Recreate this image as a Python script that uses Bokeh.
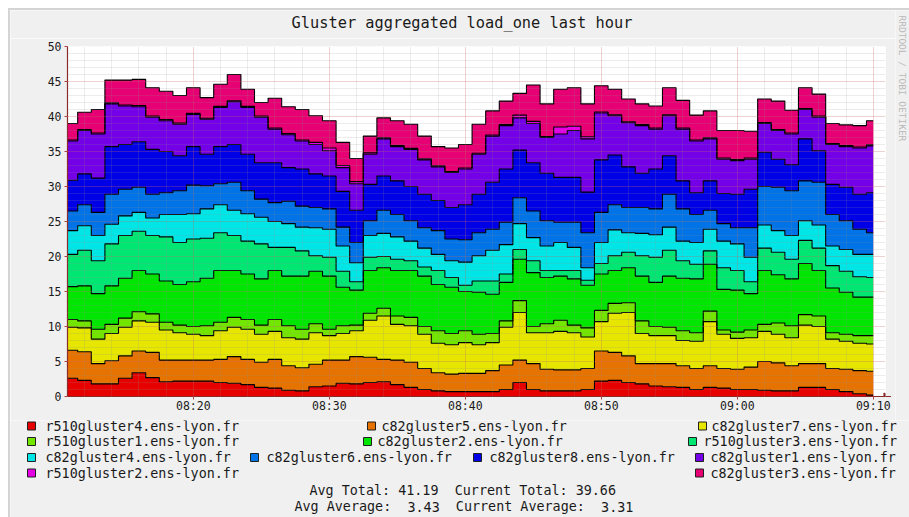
import math
import numpy as np
from bokeh.plotting import figure
from bokeh.layouts import column, row
from bokeh.models import Range1d, FixedTicker, Arrow, NormalHead, Spacer
from bokeh.core.properties import value
from bokeh.embed import file_html
from bokeh.resources import INLINE

# ---------------- data ----------------
# one sample per minute, minutes after 08:00 (08:11 ... 09:10)
minutes = list(range(11, 71))

hosts = ["r510gluster4.ens-lyon.fr", "c82gluster5.ens-lyon.fr", "c82gluster7.ens-lyon.fr",
         "r510gluster1.ens-lyon.fr", "c82gluster2.ens-lyon.fr", "r510gluster3.ens-lyon.fr",
         "c82gluster4.ens-lyon.fr", "c82gluster6.ens-lyon.fr", "c82gluster8.ens-lyon.fr",
         "c82gluster1.ens-lyon.fr", "r510gluster2.ens-lyon.fr", "c82gluster3.ens-lyon.fr"]

r510gluster4 = [2.6, 2.3, 1.8, 1.8, 2.6, 3.4, 2.7, 2.1, 2.2, 2.2,
                2.2, 2.0, 1.9, 1.7, 1.3, 1.2, 0.9, 0.8, 1.4, 1.5,
                1.9, 1.8, 2.0, 2.1, 1.7, 1.3, 1.0, 0.8, 0.7, 0.7,
                0.7, 0.7, 1.0, 2.0, 1.0, 0.8, 0.8, 0.8, 1.0, 2.2,
                2.3, 2.0, 1.8, 1.5, 1.4, 1.3, 1.0, 1.3, 1.2, 1.0,
                1.0, 0.9, 0.8, 0.8, 1.3, 1.3, 1.0, 0.7, 0.4, 0.2]
c82gluster5 = [4.0, 4.1, 2.9, 3.3, 3.2, 3.1, 3.6, 3.1, 3.0, 3.0,
               3.0, 3.3, 3.8, 3.6, 3.6, 4.1, 3.5, 3.3, 3.2, 3.7,
               3.3, 3.9, 3.6, 3.2, 3.5, 3.6, 3.0, 2.6, 2.5, 2.6,
               2.6, 3.0, 3.5, 3.2, 3.7, 3.1, 3.0, 3.0, 3.0, 4.3,
               4.0, 3.8, 2.9, 3.2, 3.3, 3.1, 3.0, 3.1, 2.8, 2.9,
               3.2, 4.1, 4.0, 3.6, 3.4, 3.4, 3.0, 3.2, 3.3, 3.4]
c82gluster7 = [3.3, 3.4, 3.5, 3.9, 4.1, 4.3, 4.3, 4.3, 3.9, 3.7,
               3.5, 4.1, 4.2, 4.3, 4.0, 4.0, 4.0, 4.1, 4.5, 3.5,
               3.8, 3.7, 5.3, 6.2, 5.1, 5.2, 4.9, 4.2, 4.2, 4.4,
               4.1, 4.0, 5.4, 6.8, 4.4, 5.2, 5.5, 5.3, 4.5, 4.2,
               5.6, 6.2, 4.3, 4.0, 4.0, 3.6, 3.9, 6.3, 4.9, 4.4,
               4.2, 4.3, 4.1, 4.0, 5.5, 5.3, 4.2, 4.0, 3.9, 3.9]
r510gluster1 = [1.1, 1.0, 1.4, 1.3, 1.3, 1.3, 1.2, 1.1, 1.1, 1.1,
                1.4, 1.2, 1.4, 1.4, 1.3, 1.7, 1.7, 1.4, 1.3, 0.9,
                1.1, 0.8, 1.0, 1.1, 1.2, 1.2, 1.1, 1.8, 1.6, 1.7,
                1.5, 1.3, 0.9, 1.7, 0.9, 1.3, 1.6, 1.1, 1.3, 1.6,
                1.4, 1.4, 1.8, 1.3, 1.2, 1.4, 1.2, 1.5, 0.6, 0.9,
                1.1, 1.0, 1.6, 1.7, 1.5, 1.5, 0.9, 1.0, 1.1, 1.2]
c82gluster2 = [4.7, 5.0, 5.1, 5.5, 5.7, 5.9, 5.7, 5.9, 5.8, 6.4,
               6.8, 7.4, 6.7, 6.5, 6.6, 7.0, 7.1, 7.6, 7.5, 7.6,
               5.5, 5.0, 6.1, 5.8, 6.5, 6.7, 7.2, 6.6, 6.6, 5.6,
               6.0, 5.6, 5.5, 5.9, 7.7, 6.6, 6.3, 6.6, 6.1, 5.2,
               4.7, 5.0, 6.4, 6.3, 7.3, 7.5, 7.7, 6.7, 5.8, 6.0,
               5.2, 7.7, 6.9, 6.7, 7.3, 6.5, 6.4, 6.0, 5.5, 5.5]
r510gluster3 = [4.6, 5.1, 4.7, 6.0, 6.1, 5.6, 5.5, 6.3, 6.0, 6.1,
                5.7, 5.4, 5.0, 4.7, 5.0, 3.3, 4.1, 3.6, 2.2, 2.7,
                2.3, 1.2, 1.9, 1.6, 1.6, 1.4, 1.3, 2.0, 1.4, 0.9,
                1.6, 1.9, 1.2, 1.4, 1.7, 1.0, 0.8, 1.2, 0.7, 1.5,
                2.1, 2.2, 2.9, 3.6, 3.7, 2.5, 2.1, 1.9, 3.1, 2.8,
                1.7, 3.2, 3.2, 2.8, 3.3, 3.2, 3.2, 3.0, 2.9, 2.8]
c82gluster4 = [3.4, 3.5, 3.6, 2.8, 2.8, 2.7, 2.5, 3.2, 4.0, 3.6,
               4.2, 4.0, 3.6, 3.9, 3.8, 3.7, 3.4, 3.4, 4.0, 4.0,
               3.6, 2.7, 3.1, 3.3, 3.2, 2.8, 2.7, 2.3, 2.4, 3.3,
               3.6, 4.4, 4.2, 3.7, 3.3, 3.5, 4.0, 3.3, 1.8, 3.0,
               3.7, 2.8, 3.2, 3.2, 3.3, 2.8, 3.1, 3.1, 3.8, 3.8,
               3.5, 3.3, 3.1, 3.4, 2.8, 3.3, 2.8, 3.1, 3.2, 3.3]
c82gluster6 = [2.8, 3.0, 3.3, 4.3, 3.8, 3.6, 3.4, 3.1, 3.4, 4.1,
               3.3, 3.0, 4.0, 3.3, 2.6, 2.7, 3.2, 3.0, 2.9, 2.9,
               2.7, 2.9, 2.1, 3.3, 3.2, 2.9, 2.9, 3.4, 3.1, 3.2,
               3.3, 3.0, 3.2, 3.7, 3.8, 3.6, 2.9, 3.6, 5.0, 4.3,
               3.6, 3.6, 3.7, 3.7, 4.7, 4.6, 4.0, 2.7, 2.5, 2.3,
               4.2, 5.5, 6.2, 6.4, 5.7, 6.1, 4.5, 4.1, 3.6, 3.1]
c82gluster8 = [4.4, 4.4, 4.9, 6.8, 6.4, 6.5, 6.4, 5.9, 5.0, 5.5,
               4.5, 5.3, 5.4, 5.2, 5.2, 5.7, 4.8, 5.3, 4.8, 4.7,
               5.1, 4.6, 5.2, 4.9, 4.8, 4.9, 4.8, 4.3, 4.5, 5.0,
               5.5, 6.7, 7.6, 6.8, 6.9, 6.8, 6.4, 6.4, 5.8, 7.5,
               7.1, 5.8, 4.9, 5.7, 5.5, 4.0, 3.1, 4.2, 4.3, 4.8,
               5.5, 4.9, 4.0, 3.7, 6.0, 4.5, 4.3, 4.8, 5.0, 5.7]
c82gluster1 = [5.6, 6.2, 6.3, 6.1, 5.5, 5.0, 4.6, 4.4, 4.5, 4.6,
               5.0, 5.6, 6.1, 6.7, 6.5, 4.8, 4.7, 4.0, 4.2, 3.6,
               3.4, 3.8, 4.3, 5.3, 4.9, 5.3, 4.9, 4.8, 5.0, 5.1,
               5.7, 6.6, 6.2, 4.6, 5.6, 5.1, 6.2, 6.7, 7.6, 6.7,
               5.6, 6.3, 6.8, 5.7, 5.7, 7.4, 7.4, 6.0, 4.9, 4.8,
               4.3, 4.1, 4.1, 4.4, 4.2, 4.8, 5.7, 5.8, 6.6, 6.7]
r510gluster2 = [0.15, 0.15, 0.15, 0.15, 0.15, 0.15, 0.15, 0.15, 0.15, 0.15,
                0.15, 0.15, 0.15, 0.15, 0.15, 0.15, 0.15, 0.15, 0.3, 0.4,
                0.3, 0.3, 0.2, 0.15, 0.15, 0.15, 0.15, 0.15, 0.15, 0.15,
                0.15, 0.15, 0.15, 0.4, 0.3, 0.15, 1.0, 0.6, 0.3, 0.15,
                0.15, 0.15, 0.15, 0.15, 0.15, 0.15, 0.15, 0.15, 0.15, 0.15,
                0.15, 0.15, 0.15, 0.15, 0.15, 0.15, 0.15, 0.15, 0.15, 0.15]
c82gluster3 = [2.35, 2.45, 3.35, 3.25, 3.55, 3.75, 4.05, 4.05, 3.95, 3.65,
               2.95, 3.15, 3.75, 2.45, 1.95, 4.25, 3.85, 4.35, 3.8, 3.9,
               3.3, 3.3, 2.4, 2.85, 3.55, 3.45, 3.25, 2.75, 3.35, 3.35,
               4.15, 3.45, 3.35, 3.1, 5.2, 4.65, 5.4, 5.5, 4.7, 3.75,
               3.65, 3.25, 2.95, 3.15, 3.85, 3.95, 3.55, 3.85, 3.95, 4.15,
               3.85, 3.35, 4.05, 3.25, 2.95, 3.15, 2.85, 2.95, 3.05, 3.45]

series = [r510gluster4, c82gluster5, c82gluster7, r510gluster1, c82gluster2, r510gluster3,
          c82gluster4, c82gluster6, c82gluster8, c82gluster1, r510gluster2, c82gluster3]

x_tick_values = [20, 30, 40, 50, 60, 70]
x_tick_labels = ["08:20", "08:30", "08:40", "08:50", "09:00", "09:10"]
y_tick_values = [0, 5, 10, 15, 20, 25, 30, 35, 40, 45, 50]

title_text = "Gluster aggregated load_one last hour"
watermark_text = "RRDTOOL / TOBI OETIKER"
# summary lines, split where the original has double spaces
summary_line1 = ["Avg Total: 41.19", "Current Total: 39.66"]
summary_line2 = ["Avg Average:", "3.43", "Current Average:", "3.31"]

# ---------------- styles / layout ----------------
colors = ["#E60000", "#E67300", "#E6E600", "#73E600", "#00E600", "#00E673",
          "#00E6E6", "#0073E6", "#0000E6", "#7300E6", "#E600E6", "#E60073"]
BACK = "#F0F0F0"
AXIS = "#8a2a2a"
FONT = "DejaVu Sans Mono"
EDGE = "#d4d4d4"
LEG_SIZE = 13.4
CHAR_W = LEG_SIZE * 0.6021          # monospace advance width
summary1_cols = [0, 18]
summary2_cols = [0, 14, 20, 38]
summary1_x0, summary2_x0 = 309, 294


def panel(width, height, x0, x1, y_bottom, y_top):
    """Blank figure whose data coordinates are page pixels."""
    f = figure(width=width, height=height, output_backend="svg", toolbar_location=None,
               x_range=Range1d(x0, x1), y_range=Range1d(y_bottom, y_top), min_border=0)
    if "frame_align" in f.properties():
        f.frame_align = False
    f.axis.visible = False
    f.grid.visible = False
    f.outline_line_color = None
    f.background_fill_color = BACK
    f.border_fill_color = BACK
    return f


# ---------------- title strip ----------------
t = panel(885, 28, 10, 895, 38, 10)
t.text(x=[461.5], y=[22], text=[title_text], text_font=value(FONT), text_font_size="15.3px",
       text_align="center", text_baseline="middle", text_color="#1a1a1a")

# ---------------- chart ----------------
p = figure(width=885, height=382, output_backend="svg", toolbar_location=None,
           x_range=Range1d(10.75, 70.9), y_range=Range1d(0, 50),
           min_border_left=57, min_border_right=10, min_border_top=8, min_border_bottom=24)
if "frame_align" in p.properties():
    p.frame_align = False
p.background_fill_color = "#FFFFFF"
p.border_fill_color = BACK
p.outline_line_color = None

edges = [m - 0.5 for m in minutes] + [minutes[-1]]
bottom = np.zeros(len(edges))
tops = []
for vals, col in zip(series, colors):
    top = bottom + np.array(vals + [vals[-1]])
    p.varea_step(x=edges, y1=bottom, y2=top, step_mode="after", fill_color=col)
    tops.append(top)
    bottom = top
for top in tops:
    p.step(x=edges, y=top, mode="after", line_color="#000000", line_width=1.1)

p.xaxis.ticker = FixedTicker(ticks=x_tick_values, minor_ticks=list(range(12, 71, 2)))
p.xaxis.major_label_overrides = {v: l for v, l in zip(x_tick_values, x_tick_labels)}
p.yaxis.ticker = FixedTicker(ticks=y_tick_values, minor_ticks=list(range(0, 51)))
for ax in (p.xaxis[0], p.yaxis[0]):
    ax.axis_line_color = AXIS
    ax.axis_line_width = 1.2
    ax.major_tick_line_color = "#b04040"
    ax.major_tick_out = 3
    ax.major_tick_in = 0
    ax.minor_tick_line_color = None
    ax.major_label_text_font = FONT
    ax.major_label_text_color = "#1a1a1a"
p.xaxis.major_label_text_font_size = "11.5px"
p.xaxis.major_label_standoff = -2
p.yaxis.major_label_text_font_size = "11.5px"
p.yaxis.major_label_standoff = 2

for g in (p.xgrid[0], p.ygrid[0]):
    g.level = "overlay"
    g.grid_line_color = "#FF4040"
    g.grid_line_alpha = 0.3
    g.grid_line_dash = "1 1"
    g.minor_grid_line_color = "#909090"
    g.minor_grid_line_alpha = 0.35
    g.minor_grid_line_dash = "1 1"

p.add_layout(Arrow(end=NormalHead(size=7, fill_color=AXIS, line_color=AXIS),
                   x_start=70.9, y_start=0, x_end=71.3, y_end=0, line_color=AXIS))

# ---------------- vertical watermark strip on the right ----------------
r = panel(14, 410, 895, 909, 420, 10)
r.text(x=[902], y=[15], text=[watermark_text], angle=-math.pi / 2, text_font=value(FONT),
       text_font_size="9.5px", text_align="left", text_baseline="middle", text_color="#b8b8b8")

# ---------------- legend / summary panel ----------------
q = panel(899, 97, 10, 909, 517, 420)

legend_square_x = [31, 371, 702, 31, 367, 692, 31, 254, 477, 699, 31, 699]
legend_text_x = [45, 381, 711, 45, 377, 703, 45, 266, 489, 710, 45, 710]
legend_y = [425.5, 425.5, 425.5, 441, 441, 441, 457, 457, 457, 457, 472.5, 472.5]

q.rect(x=legend_square_x, y=legend_y, width=8, height=8, fill_color=colors,
       line_color="#202020", line_width=1)
q.text(x=legend_text_x, y=legend_y, text=hosts, text_font=value(FONT),
       text_font_size=f"{LEG_SIZE}px", text_baseline="middle", text_color="#1a1a1a")

s_x = [summary1_x0 + c * CHAR_W for c in summary1_cols] + \
      [summary2_x0 + c * CHAR_W for c in summary2_cols]
s_y = [490] * len(summary_line1) + [506] * len(summary_line2)
q.text(x=s_x, y=s_y, text=summary_line1 + summary_line2, text_font=value(FONT),
       text_font_size=f"{LEG_SIZE}px", text_baseline="middle", text_color="#1a1a1a")

# ---------------- assemble: white page margin + light grey edge ----------------
edge_top = Spacer(width=901, height=2, styles={"background-color": EDGE})
edge_left = Spacer(width=2, height=507, styles={"background-color": EDGE})
upper = row(column(t, p, spacing=0), r, spacing=0)
inner = column(upper, q, spacing=0)
framed = column(edge_top, row(edge_left, inner, spacing=0), spacing=0)
layout = column(Spacer(width=909, height=8),
                row(Spacer(width=8, height=509), framed, spacing=0),
                spacing=0)
open("out.html", "w").write(file_html(layout, INLINE))
